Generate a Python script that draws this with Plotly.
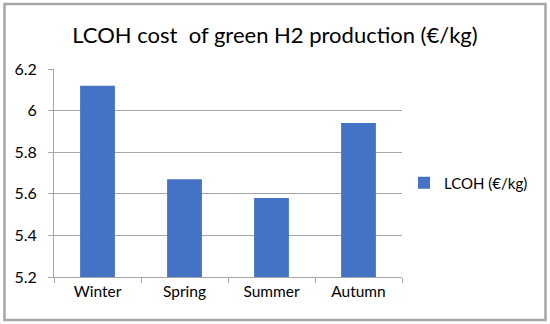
import plotly.graph_objects as go

seasons = ["Winter", "Spring", "Summer", "Autumn"]
lcoh = [6.12, 5.67, 5.58, 5.94]
y_ticks = [5.2, 5.4, 5.6, 5.8, 6.0, 6.2]
y_tick_text = ["5.2", "5.4", "5.6", "5.8", "6", "6.2"]

FONT = "Lato, Open Sans, sans-serif"
W, H = 550, 324
L, R, T, B = 54, 148, 69, 47

fig = go.Figure(go.Bar(
    x=seasons, y=lcoh, name="LCOH (€/kg)",
    marker=dict(color="#4472C4", line=dict(width=0)),
))

pw = W - L - R
ph = H - T - B
def px(x):
    return (x - L) / pw
def py(y):
    return (H - B - y) / ph

fig.update_layout(
    width=W, height=H,
    margin=dict(l=L, r=R, t=T, b=B),
    paper_bgcolor="white", plot_bgcolor="white",
    font=dict(family=FONT, size=15, color="#000000"),
    title=dict(text="LCOH cost \u00a0of green H2 production (€/kg)",
               x=275 / W, xref="container", xanchor="center",
               y=1 - 35 / H, yref="container", yanchor="middle",
               font=dict(family=FONT, size=22, color="#000000")),
    bargap=0.6,
    showlegend=True,
    legend=dict(x=px(404), y=py(183), xanchor="left", yanchor="middle",
                font=dict(family=FONT, size=15), itemwidth=30,
                bgcolor="rgba(0,0,0,0)"),
    xaxis=dict(showgrid=False, showline=True, linecolor="#A6A6A6", linewidth=1,
               ticks="outside", tickson="boundaries", ticklen=5, tickcolor="#A6A6A6",
               tickfont=dict(family=FONT, size=15.5), fixedrange=True),
    yaxis=dict(range=[5.2, 6.2], tickvals=y_ticks, ticktext=y_tick_text,
               showgrid=True, gridcolor="#A6A6A6", gridwidth=1,
               showline=True, linecolor="#A6A6A6", linewidth=1,
               ticks="outside", ticklen=5, tickcolor="#A6A6A6",
               ticklabelstandoff=8,
               tickfont=dict(family=FONT, size=16), zeroline=False),
    shapes=[dict(type="rect", xref="paper", yref="paper",
                 x0=px(4.5), x1=px(545.5), y0=py(320), y1=py(4),
                 line=dict(color="#A6A6A6", width=2.5), fillcolor="rgba(0,0,0,0)",
                 layer="above")],
)

fig.write_html("out.html", config={"displayModeBar": False},
               post_script="document.body.style.margin='0';document.body.style.overflow='hidden';")
